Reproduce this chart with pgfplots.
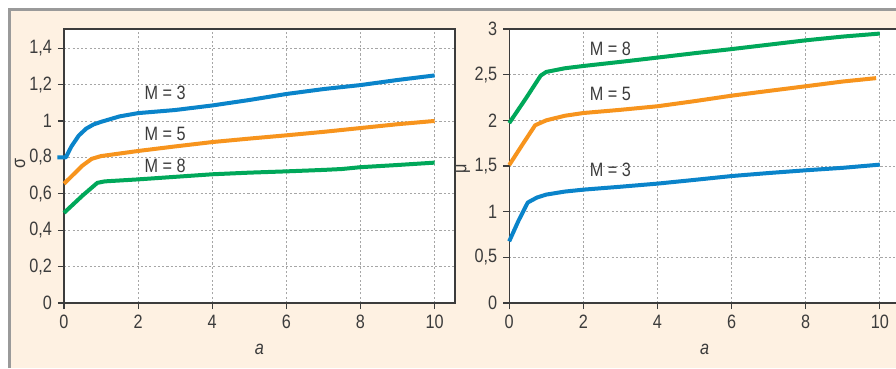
\documentclass[border=0pt]{standalone}
\usepackage{pgfplots}
\pgfplotsset{compat=1.18}
\usepackage{fontspec}
\setmainfont{Liberation Sans}[FakeStretch=0.84]
\definecolor{cream}{HTML}{FEF1E2}
\definecolor{framegray}{HTML}{9A9A9A}
\definecolor{axisgray}{HTML}{3C3C3C}
\definecolor{cblue}{HTML}{0A84CA}
\definecolor{corange}{HTML}{F7941D}
\definecolor{cgreen}{HTML}{00A85A}
\pgfplotsset{
  myaxis/.style={
    anchor=south west, scale only axis,
    width=293.25pt, height=205.5pt,
    xmin=0, xmax=10.55, ymin=0,
    xtick={0,2,4,6,8,10},
    axis background/.style={fill=white},
    grid=major,
    grid style={draw=gray!70, line width=0.6pt, dash pattern=on 1.6pt off 1.6pt},
    axis line style={draw=axisgray, line width=1pt},
    tick style={draw=axisgray, line width=0.9pt},
    tick align=outside, major tick length=4.5pt,
    xtick pos=left, ytick pos=left,
    ticklabel style={font=\fontsize{14.5}{16}\selectfont, text=axisgray},
    yticklabel style={xshift=-1pt},
    xticklabel style={yshift=-1pt},
    /pgf/number format/use comma,
    /pgf/number format/assume math mode=true,
    label style={font=\fontsize{14.5}{16}\selectfont, text=axisgray},
    xlabel={\itshape a},
    xlabel style={at={(axis description cs:0.5,-0.17)}, anchor=center},
    clip=false,
    every axis plot/.append style={line width=3pt, line join=round},
  }
}
\begin{document}
\begin{tikzpicture}
\useasboundingbox (0pt,0pt) rectangle (672pt,276pt);
\fill[white] (0pt,0pt) rectangle (672pt,276pt);
\fill[cream] (7.5pt,0pt) rectangle (672pt,268.5pt);
\draw[framegray, line width=2.2pt] (7.4pt,0pt) -- (7.4pt,268.6pt) -- (672pt,268.6pt);

% left panel: sigma
\begin{axis}[myaxis, at={(48pt,48.75pt)},
  ymax=1.505, ytick={0,0.2,0.4,0.6,0.8,1,1.2,1.4},
  ylabel={σ},
  ylabel style={at={(axis description cs:-0.112,0.51)}, anchor=center},
]
\addplot[cblue] coordinates {(-0.18,0.8) (0.05,0.8) (0.2,0.86) (0.4,0.92) (0.6,0.958) (0.8,0.981) (1,0.995) (1.5,1.025) (2,1.043) (3,1.06) (4,1.085) (5,1.115) (6,1.148) (7,1.175) (8,1.197) (9,1.225) (10,1.25)};
\addplot[corange] coordinates {(0,0.655) (0.25,0.705) (0.5,0.755) (0.75,0.792) (1,0.807) (2,0.835) (3,0.86) (4,0.884) (5,0.903) (6,0.921) (7,0.94) (8,0.961) (9,0.982) (10,1.0)};
\addplot[cgreen] coordinates {(0,0.495) (0.5,0.59) (0.9,0.66) (1.1,0.668) (2,0.679) (3,0.693) (4,0.707) (5,0.716) (6,0.723) (7,0.731) (7.5,0.736) (8,0.746) (9,0.758) (10,0.771)};
\node[anchor=west, font=\fontsize{14.5}{16}\selectfont, text=axisgray] at (axis cs:2.05,1.152) {M = 3};
\node[anchor=west, font=\fontsize{14.5}{16}\selectfont, text=axisgray] at (axis cs:2.05,0.93) {M = 5};
\node[anchor=west, font=\fontsize{14.5}{16}\selectfont, text=axisgray] at (axis cs:2.05,0.756) {M = 8};
\end{axis}

% right panel: mu
\begin{axis}[myaxis, at={(381.9pt,48.75pt)},
  ymax=3, ytick={0,0.5,1,1.5,2,2.5,3},
  ylabel={μ},
  ylabel style={at={(axis description cs:-0.118,0.49)}, anchor=center},
]
\addplot[cblue] coordinates {(0,0.675) (0.25,0.9) (0.5,1.1) (0.75,1.155) (1,1.187) (1.5,1.22) (2,1.241) (3,1.273) (4,1.307) (5,1.348) (6,1.39) (7,1.423) (8,1.453) (9,1.48) (10,1.515)};
\addplot[corange] coordinates {(0,1.51) (0.35,1.73) (0.7,1.946) (1,2.0) (1.5,2.05) (2,2.08) (3,2.115) (4,2.154) (5,2.21) (6,2.27) (7,2.322) (8,2.373) (9,2.425) (9.9,2.462)};
\addplot[cgreen] coordinates {(0,1.97) (0.45,2.24) (0.85,2.49) (1,2.53) (1.5,2.57) (2,2.595) (3,2.64) (4,2.687) (5,2.735) (6,2.78) (7,2.828) (8,2.876) (9,2.917) (10,2.95)};
\node[anchor=west, font=\fontsize{14.5}{16}\selectfont, text=axisgray] at (axis cs:2.05,2.785) {M = 8};
\node[anchor=west, font=\fontsize{14.5}{16}\selectfont, text=axisgray] at (axis cs:2.05,2.285) {M = 5};
\node[anchor=west, font=\fontsize{14.5}{16}\selectfont, text=axisgray] at (axis cs:2.05,1.453) {M = 3};
\end{axis}
\end{tikzpicture}
\end{document}
